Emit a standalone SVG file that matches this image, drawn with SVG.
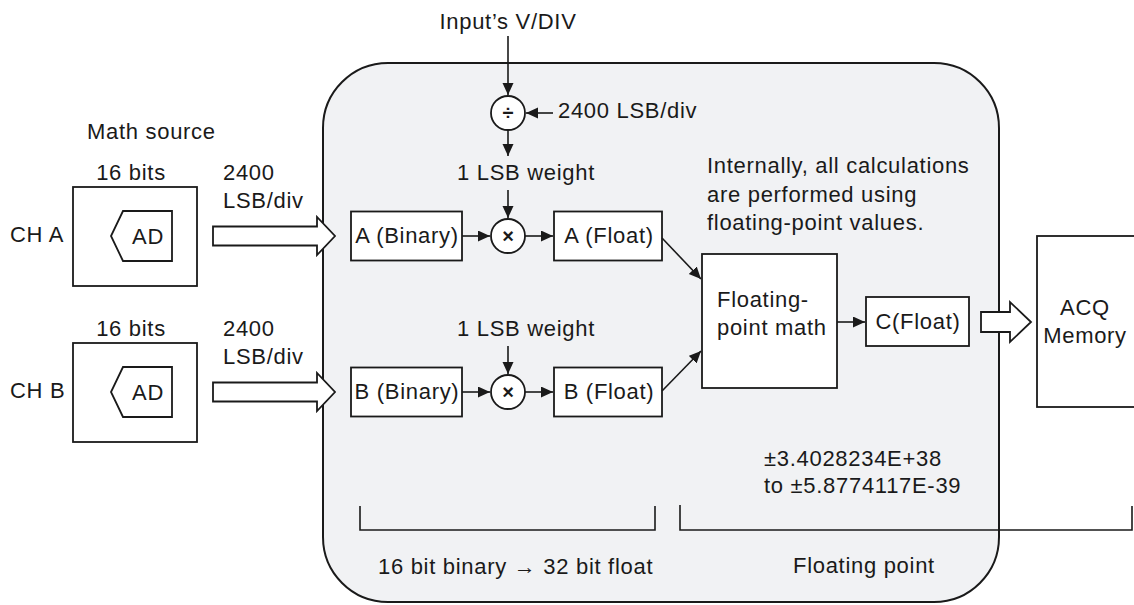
<svg xmlns="http://www.w3.org/2000/svg" width="1134" height="605" viewBox="0 0 1134 605">
<style>
text{font-family:"Liberation Sans",Arial,sans-serif;font-size:22px;fill:#1a1a1a;letter-spacing:0.7px}
.m{text-anchor:middle}
.op{font-size:20px;letter-spacing:0;font-weight:bold}
.box{fill:#ffffff;stroke:#1a1a1a;stroke-width:1.8}
.ln{fill:none;stroke:#1a1a1a;stroke-width:1.6}
.blk{fill:#ffffff;stroke:#1a1a1a;stroke-width:1.8;stroke-linejoin:miter}
.cir{fill:#ffffff;stroke:#1a1a1a;stroke-width:1.8}
</style>
<defs>
<marker id="ah" markerUnits="userSpaceOnUse" markerWidth="13" markerHeight="12" refX="12" refY="5.5" orient="auto">
<path d="M0,0 L12,5.5 L0,11 z" fill="#1a1a1a"/>
</marker>
</defs>
<g id="float-region">
<rect x="323" y="63" width="676" height="539" rx="65" ry="65" fill="#f1f2f4" stroke="#1a1a1a" stroke-width="2"/>
</g>
<g id="math-source-label"><text x="87" y="139">Math source</text></g>
<g id="ch-a">
<text x="10" y="242">CH A</text>
<text class="m" x="131" y="180">16 bits</text>
<rect class="box" x="73" y="187" width="124" height="99"/>
<path class="box" d="M123,211 H172 V261 H123 L111,236 Z"/>
<text class="m" x="148" y="244">AD</text>
</g>
<g id="ch-b">
<text x="10" y="398">CH B</text>
<text class="m" x="131" y="336">16 bits</text>
<rect class="box" x="73" y="343" width="124" height="99"/>
<path class="box" d="M123,367 H172 V417 H123 L111,392 Z"/>
<text class="m" x="148" y="400">AD</text>
</g>
<g id="rate-a"><text x="223" y="180">2400</text><text x="223" y="208">LSB/div</text></g>
<g id="rate-b"><text x="223" y="336">2400</text><text x="223" y="364">LSB/div</text></g>
<g id="input-vdiv"><text class="m" x="508" y="29">Input’s V/DIV</text></g>
<g id="div-op">
<circle class="cir" cx="508" cy="113" r="17"/>
<text class="m op" x="508" y="120">÷</text>
</g>
<g id="lsb-div-label"><text x="558" y="118">2400 LSB/div</text></g>
<g id="lsb-weight-a"><text x="457" y="180">1 LSB weight</text></g>
<g id="lsb-weight-b"><text x="457" y="336">1 LSB weight</text></g>
<g id="a-binary"><rect class="box" x="351" y="211.5" width="111" height="49"/><text class="m" x="407" y="243">A (Binary)</text></g>
<g id="b-binary"><rect class="box" x="351" y="367.5" width="111" height="49"/><text class="m" x="407" y="399">B (Binary)</text></g>
<g id="mul-a"><circle class="cir" cx="508" cy="236" r="17"/><text class="m op" x="508" y="243">×</text></g>
<g id="mul-b"><circle class="cir" cx="508" cy="392" r="17"/><text class="m op" x="508" y="399">×</text></g>
<g id="a-float"><rect class="box" x="554" y="211.5" width="108" height="49"/><text class="m" x="609" y="243">A (Float)</text></g>
<g id="b-float"><rect class="box" x="554" y="367.5" width="108" height="49"/><text class="m" x="609" y="399">B (Float)</text></g>
<g id="note"><text x="707" y="173">Internally, all calculations</text><text x="707" y="202">are performed using</text><text x="707" y="230">floating-point values.</text></g>
<g id="fp-math"><rect class="box" x="702" y="254" width="135" height="134"/><text x="717" y="307">Floating-</text><text x="717" y="335">point math</text></g>
<g id="c-float"><rect class="box" x="866" y="297" width="103" height="49"/><text class="m" x="918" y="329">C(Float)</text></g>
<g id="acq-memory"><rect class="box" x="1037" y="236" width="110" height="171"/><text class="m" x="1085" y="315">ACQ</text><text class="m" x="1085" y="343">Memory</text></g>
<g id="range"><text x="764" y="466">±3.4028234E+38</text><text x="764" y="493">to ±5.8774117E-39</text></g>
<g id="bracket-conv"><path class="ln" d="M360,506 V530 H655 V506"/><text x="378" y="574">16 bit binary → 32 bit float</text></g>
<g id="bracket-fp"><path class="ln" d="M680,505 V530 H1132 V506"/><text x="793" y="573">Floating point</text></g>
<g id="connectors">
<path class="blk" d="M213,226.5 H317 V217 L335,236 L317,255 V245.5 H213 Z"/>
<path class="blk" d="M213,382.5 H317 V373 L335,392 L317,411 V401.5 H213 Z"/>
<path class="blk" d="M981,312 H1010 V302 L1031,322 L1010,342 V332 H981 Z"/>
<line class="ln" x1="508" y1="36" x2="508" y2="95" marker-end="url(#ah)"/>
<line class="ln" x1="553" y1="113" x2="526" y2="113" marker-end="url(#ah)"/>
<line class="ln" x1="508" y1="130" x2="508" y2="156" marker-end="url(#ah)"/>
<line class="ln" x1="508" y1="190" x2="508" y2="218" marker-end="url(#ah)"/>
<line class="ln" x1="508" y1="346" x2="508" y2="374" marker-end="url(#ah)"/>
<line class="ln" x1="462" y1="236" x2="490" y2="236" marker-end="url(#ah)"/>
<line class="ln" x1="525" y1="236" x2="553" y2="236" marker-end="url(#ah)"/>
<line class="ln" x1="462" y1="392" x2="490" y2="392" marker-end="url(#ah)"/>
<line class="ln" x1="525" y1="392" x2="553" y2="392" marker-end="url(#ah)"/>
<line class="ln" x1="662" y1="238" x2="701" y2="279" marker-end="url(#ah)"/>
<line class="ln" x1="662" y1="391" x2="701" y2="351" marker-end="url(#ah)"/>
<line class="ln" x1="837" y1="322" x2="865" y2="322" marker-end="url(#ah)"/>
</g>
</svg>
